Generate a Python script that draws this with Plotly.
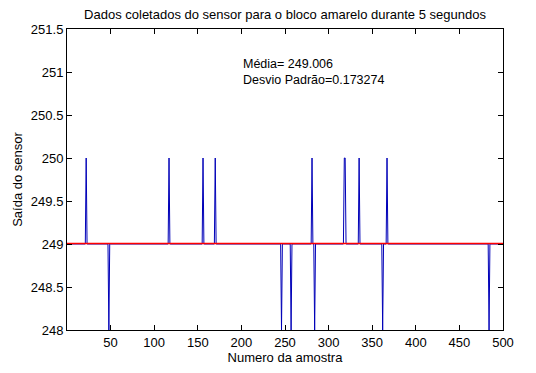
import plotly.graph_objects as go

# Data
n_samples = 500
baseline_value = 249
up_samples = [22, 117, 156, 170, 281, 318, 319, 335, 367]      # value 250
down_samples = [48, 246, 257, 284, 362, 484]                   # value 248
up_value = 250
down_value = 248
mean_value = 249.006
std_value = 0.173274
x_ticks = [50, 100, 150, 200, 250, 300, 350, 400, 450, 500]
y_ticks = [248, 248.5, 249, 249.5, 250, 250.5, 251, 251.5]
y_ticktext = ["248", "248.5", "249", "249.5", "250", "250.5", "251", "251.5"]

samples = list(range(1, n_samples + 1))
values = []
for s in samples:
    if s in up_samples:
        values.append(up_value)
    elif s in down_samples:
        values.append(down_value)
    else:
        values.append(baseline_value)

family = "Liberation Sans, Arial, sans-serif"
font = dict(family=family, size=13, color="black")
ann_font = dict(family=family, size=12.5, color="black")

fig = go.Figure()
fig.add_trace(go.Scatter(x=samples, y=values, mode="lines",
                         line=dict(color="#0000b8", width=1), hoverinfo="skip"))
fig.add_trace(go.Scatter(x=[0, n_samples], y=[mean_value, mean_value], mode="lines",
                         line=dict(color="red", width=1.6), hoverinfo="skip"))

fig.add_annotation(x=200, y=251, xref="x", yref="y",
                   text=f"Média= {mean_value}<br>Desvio Padrão={std_value}",
                   showarrow=False, xanchor="left", yanchor="middle", align="left",
                   font=ann_font)

axis_common = dict(showline=True, linecolor="black", linewidth=1, mirror="ticks",
                   ticks="inside", ticklen=5, tickcolor="black", showgrid=False,
                   zeroline=False, tickfont=font, automargin=False)

fig.update_layout(
    width=536, height=373,
    margin=dict(l=67, r=33, t=29, b=43, autoexpand=False),
    paper_bgcolor="white", plot_bgcolor="white",
    showlegend=False,
    font=font,
    title=dict(text="Dados coletados do sensor para o bloco amarelo durante 5 segundos",
               xref="paper", x=0.5, xanchor="center",
               yref="container", y=1 - 14 / 373, yanchor="middle",
               font=font, automargin=False),
    xaxis=dict(range=[0, 500], tickvals=x_ticks, ticktext=[str(t) for t in x_ticks],
               title=dict(text="Numero da amostra", font=font, standoff=3),
               **axis_common),
    yaxis=dict(range=[248, 251.5], tickvals=y_ticks, ticktext=y_ticktext,
               title=dict(text="Saída do sensor", font=font, standoff=5),
               **axis_common),
)

fig.write_html("out.html", config={"displayModeBar": False},
               post_script="document.body.style.margin='0';document.body.style.overflow='hidden';")
